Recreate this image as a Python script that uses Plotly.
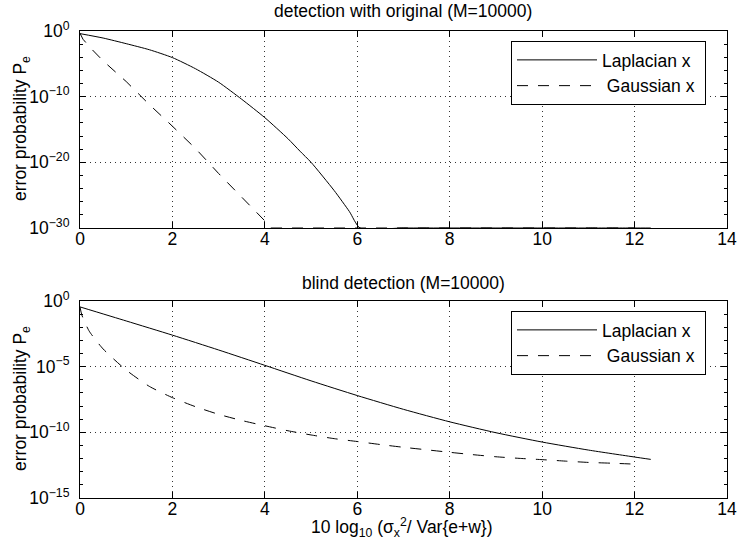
import plotly.graph_objects as go

# ---------------- data (log10 of error probability) ----------------
# Top panel: detection with original (M=10000)
top_lap_x = [0, 0.5, 1, 1.5, 2, 2.5, 3, 3.5, 4, 4.5, 4.76, 5, 5.5, 5.83, 6.06, 7, 8, 9, 10, 11, 12, 12.35]
top_lap_log = [-0.4, -1.07, -1.93, -2.85, -4.05, -5.75, -7.8, -10.4, -13.2, -16.4, -18.3, -20.0, -24.3, -27.5, -30,
               -30, -30, -30, -30, -30, -30, -30]
top_gau_x = [0, 0.065, 0.25, 0.5, 1, 1.5, 2, 2.5, 3, 3.5, 4, 4.15, 5, 6, 7, 8, 9, 10, 11, 12]
top_gau_log = [-0.35, -1.26, -2.74, -4.55, -7.7, -11.2, -14.5, -17.9, -21.7, -25.3, -29.0, -30,
               -30, -30, -30, -30, -30, -30, -30, -30]

# Bottom panel: blind detection (M=10000)
bot_lap_x = [0, 1, 2, 3, 4, 5, 6, 7, 8, 9, 10, 11, 12, 12.35]
bot_lap_log = [-0.45, -1.52, -2.6, -3.73, -4.9, -6.08, -7.2, -8.25, -9.2, -10.03, -10.74, -11.35, -11.88, -12.06]
bot_gau_x = [0, 0.04, 0.2, 0.5, 1, 1.5, 2, 2.5, 3, 3.5, 4, 4.5, 5, 5.5, 6, 6.5, 7, 7.5, 8, 8.5, 9, 9.5,
             10, 10.5, 11, 11.5, 12]
bot_gau_log = [-0.45, -1.07, -2.3, -3.65, -5.26, -6.5, -7.36, -8.05, -8.63, -9.1, -9.5, -9.88, -10.2, -10.48,
               -10.7, -10.93, -11.14, -11.33, -11.52, -11.7, -11.86, -11.98, -12.08, -12.19, -12.29, -12.35, -12.42]

x_ticks = [0, 2, 4, 6, 8, 10, 12, 14]
top_y_exps = [0, -10, -20, -30]
bot_y_exps = [0, -5, -10, -15]
series_names = ["Laplacian x", "Gaussian x"]
titles = ["detection with original (M=10000)", "blind detection (M=10000)"]

FONT = "Liberation Sans, Arial, Helvetica, sans-serif"
FS = 17.5
DASH = "11px,10px"

W, H = 738, 552


def fx(px):
    return px / W


def fy(py):
    return 1 - py / H


def p(v):
    return [10 ** e for e in v]


def exp_label(e):
    return "10<sup>" + (str(e) if e >= 0 else "\u2212" + str(-e)) + "</sup>"


fig = go.Figure()
fig.add_trace(go.Scatter(x=top_lap_x, y=p(top_lap_log), mode="lines", name=series_names[0] + "\u00a0",
                         line=dict(color="black", width=1, shape="spline", smoothing=0.6),
                         xaxis="x", yaxis="y", legend="legend"))
fig.add_trace(go.Scatter(x=top_gau_x, y=p(top_gau_log), mode="lines", name="\u00a0" + series_names[1] + "\u00a0",
                         line=dict(color="black", width=1, dash=DASH), xaxis="x", yaxis="y", legend="legend"))
fig.add_trace(go.Scatter(x=bot_lap_x, y=p(bot_lap_log), mode="lines", name=series_names[0] + "\u00a0",
                         line=dict(color="black", width=1, shape="spline", smoothing=0.6),
                         xaxis="x2", yaxis="y2", legend="legend2"))
fig.add_trace(go.Scatter(x=bot_gau_x, y=p(bot_gau_log), mode="lines", name="\u00a0" + series_names[1] + "\u00a0",
                         line=dict(color="black", width=1, dash=DASH, shape="spline", smoothing=0.6),
                         xaxis="x2", yaxis="y2", legend="legend2"))

xdom = [fx(80), fx(727)]
top_dom = [fy(228), fy(31)]
bot_dom = [fy(498), fy(301)]

grid = dict(showgrid=True, gridcolor="#333", gridwidth=1, griddash="1px,4px")
common = dict(showline=True, linecolor="black", linewidth=1, mirror="allticks", ticks="inside",
              ticklen=6, tickcolor="black", zeroline=False, automargin=False, ticklabeloverflow="allow",
              tickfont=dict(family=FONT, size=FS, color="black"), **grid)


def xaxis(anchor):
    return dict(domain=xdom, range=[0, 14], tickvals=x_ticks, ticktext=[str(t) for t in x_ticks],
                anchor=anchor, ticklabelstandoff=-5, **common)


def yaxis(dom, exps, minor_exps):
    return dict(domain=dom, type="log", range=[exps[-1], exps[0]],
                tickvals=[10 ** e for e in exps], ticktext=[exp_label(e) for e in exps],
                minor=dict(tickvals=[10 ** e for e in minor_exps], ticks="inside", ticklen=3,
                           tickcolor="black", showgrid=False),
                ticklabelstandoff=6, **common)


top_minor = [e for e in range(0, -31, -2) if e not in top_y_exps]
bot_minor = [e for e in range(0, -16, -1) if e not in bot_y_exps]

legend_common = dict(xanchor="left", yanchor="top", bgcolor="white", bordercolor="black", borderwidth=1,
                     font=dict(family=FONT, size=FS, color="black"), itemwidth=80, tracegroupgap=0)

ann_font = dict(family=FONT, size=FS, color="black")
fig.update_layout(
    width=W, height=H, margin=dict(l=0, r=0, t=0, b=0),
    paper_bgcolor="white", plot_bgcolor="white",
    font=dict(family=FONT, size=FS, color="black"),
    xaxis=xaxis("y"), yaxis=yaxis(top_dom, top_y_exps, top_minor),
    xaxis2=xaxis("y2"), yaxis2=yaxis(bot_dom, bot_y_exps, bot_minor),
    legend=dict(x=fx(511), y=fy(41), **legend_common),
    legend2=dict(x=fx(511), y=fy(311), **legend_common),
    annotations=[
        dict(text=titles[0], x=fx(403), y=fy(11), xref="paper", yref="paper", showarrow=False,
             xanchor="center", yanchor="middle", font=ann_font),
        dict(text=titles[1], x=fx(403), y=fy(283), xref="paper", yref="paper", showarrow=False,
             xanchor="center", yanchor="middle", font=ann_font),
        dict(text="error probability P<sub>e</sub>", x=fx(21), y=fy(129), xref="paper", yref="paper",
             showarrow=False, textangle=-90, xanchor="center", yanchor="middle", font=ann_font),
        dict(text="error probability P<sub>e</sub>", x=fx(21), y=fy(399), xref="paper", yref="paper",
             showarrow=False, textangle=-90, xanchor="center", yanchor="middle", font=ann_font),
        dict(text="10 log<sub>10</sub> (\u03c3<sub>x</sub><sup>2</sup>/ Var{e+w})", x=fx(402), y=fy(527),
             xref="paper", yref="paper", showarrow=False, xanchor="center", yanchor="middle", font=ann_font),
    ],
)

# remove the default page margin so the figure sits at the window's top-left corner
fig.write_html("out.html", config={"displayModeBar": False},
               post_script="document.body.style.margin='0px';")
